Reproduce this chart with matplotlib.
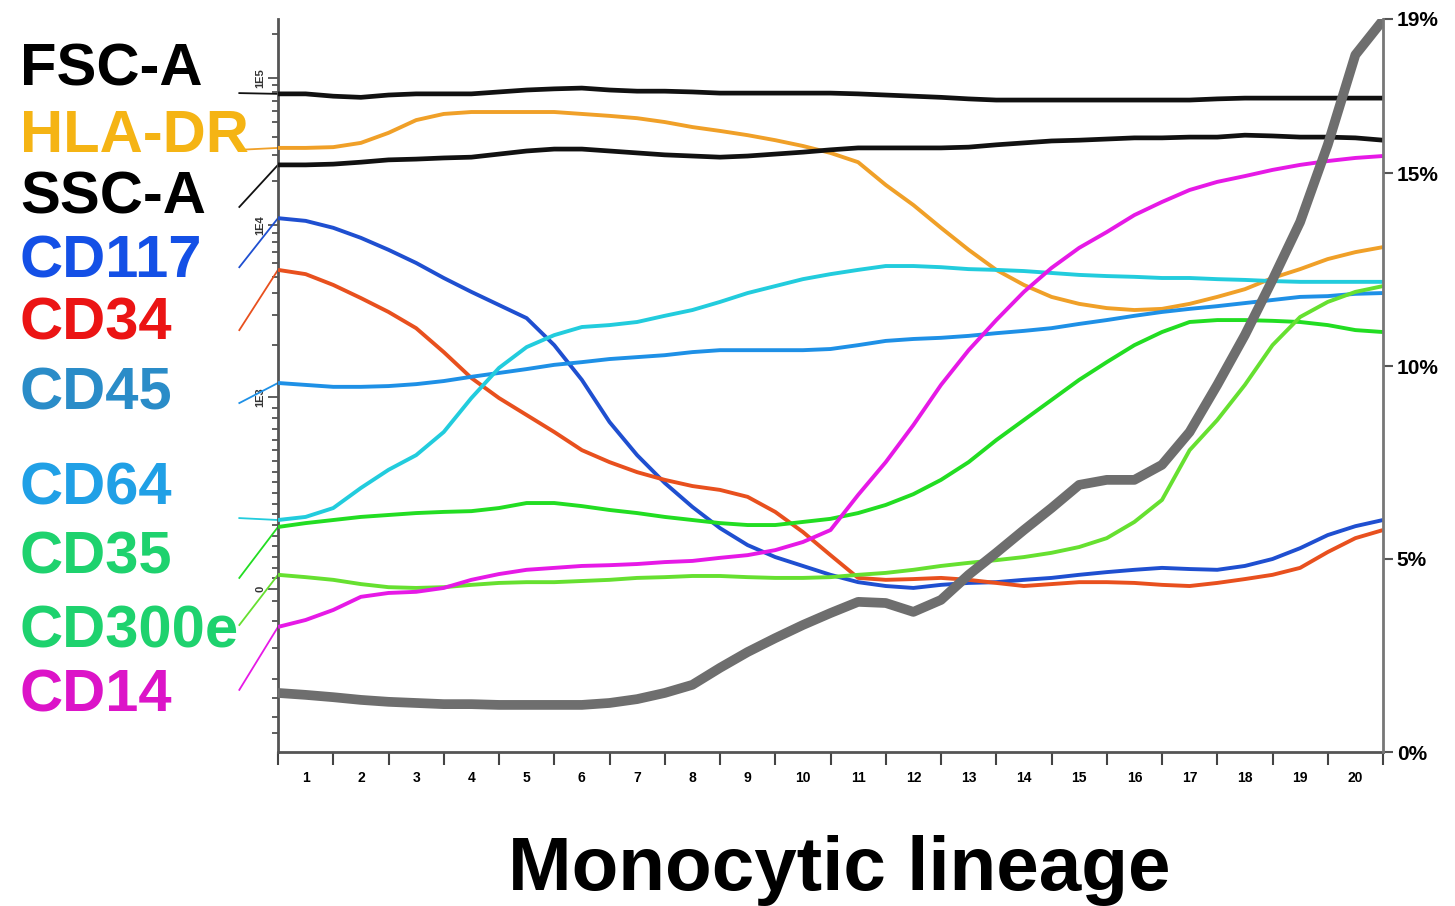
import numpy as np
import matplotlib.pyplot as plt
from matplotlib.ticker import FixedLocator, NullFormatter

plt.rcParams['font.family'] = ['Liberation Sans', 'DejaVu Sans']

# 20 maturation stages, curves sampled every half stage (0 .. 20)
stage = np.linspace(0, 20, 41)
stage_labels = [str(i) for i in range(1, 21)]

# marker intensities (drawn on the same vertical scale as the % axis)
fsc_a = [17.05, 17.05, 16.99, 16.96, 17.02, 17.05, 17.05, 17.05, 17.10, 17.15, 17.18, 17.20, 17.15, 17.12,
         17.12, 17.10, 17.07, 17.07, 17.07, 17.07, 17.07, 17.05, 17.02, 16.99, 16.96, 16.92, 16.89, 16.89,
         16.89, 16.89, 16.89, 16.89, 16.89, 16.89, 16.92, 16.94, 16.94, 16.94, 16.94, 16.94, 16.94]
hla_dr = [15.65, 15.65, 15.67, 15.78, 16.04, 16.37, 16.53, 16.58, 16.58, 16.58, 16.58, 16.53, 16.48, 16.42,
          16.32, 16.19, 16.09, 15.98, 15.85, 15.70, 15.52, 15.28, 14.69, 14.17, 13.58, 13.01, 12.49, 12.10,
          11.79, 11.61, 11.50, 11.45, 11.48, 11.61, 11.79, 11.99, 12.28, 12.51, 12.77, 12.95, 13.08]
ssc_a = [15.21, 15.21, 15.23, 15.28, 15.34, 15.36, 15.39, 15.41, 15.49, 15.57, 15.62, 15.62, 15.57, 15.52,
         15.47, 15.44, 15.41, 15.44, 15.49, 15.54, 15.60, 15.65, 15.65, 15.65, 15.65, 15.67, 15.73, 15.78,
         15.83, 15.85, 15.88, 15.91, 15.91, 15.93, 15.93, 15.98, 15.96, 15.93, 15.93, 15.91, 15.85]
cd117 = [13.83, 13.76, 13.58, 13.32, 13.01, 12.67, 12.28, 11.92, 11.58, 11.24, 10.54, 9.64, 8.55, 7.69,
         6.97, 6.35, 5.80, 5.36, 5.05, 4.82, 4.59, 4.40, 4.30, 4.25, 4.33, 4.38, 4.40, 4.46, 4.51, 4.59,
         4.66, 4.72, 4.77, 4.74, 4.72, 4.82, 5.00, 5.28, 5.62, 5.85, 6.01]
cd34 = [12.49, 12.38, 12.10, 11.76, 11.40, 10.98, 10.36, 9.69, 9.17, 8.73, 8.29, 7.82, 7.51, 7.25, 7.05,
        6.89, 6.79, 6.61, 6.22, 5.70, 5.10, 4.51, 4.46, 4.48, 4.51, 4.46, 4.38, 4.30, 4.35, 4.40, 4.40,
        4.38, 4.33, 4.30, 4.38, 4.48, 4.59, 4.77, 5.18, 5.54, 5.75]
cd45 = [9.56, 9.51, 9.46, 9.46, 9.48, 9.53, 9.61, 9.72, 9.82, 9.92, 10.03, 10.10, 10.18, 10.23, 10.28,
        10.36, 10.41, 10.41, 10.41, 10.41, 10.44, 10.54, 10.65, 10.70, 10.73, 10.78, 10.85, 10.91, 10.98,
        11.09, 11.19, 11.30, 11.40, 11.48, 11.55, 11.63, 11.71, 11.79, 11.81, 11.87, 11.89]
cd64 = [6.01, 6.09, 6.32, 6.84, 7.31, 7.69, 8.29, 9.17, 9.95, 10.49, 10.80, 11.01, 11.06, 11.14, 11.30,
        11.45, 11.66, 11.89, 12.07, 12.25, 12.38, 12.49, 12.59, 12.59, 12.56, 12.51, 12.49, 12.46, 12.41,
        12.36, 12.33, 12.31, 12.28, 12.28, 12.25, 12.23, 12.20, 12.18, 12.18, 12.18, 12.18]
cd35 = [5.83, 5.93, 6.01, 6.09, 6.14, 6.19, 6.22, 6.24, 6.32, 6.45, 6.45, 6.37, 6.27, 6.19, 6.09, 6.01,
        5.93, 5.88, 5.88, 5.96, 6.04, 6.19, 6.40, 6.68, 7.05, 7.51, 8.08, 8.60, 9.12, 9.64, 10.10, 10.54,
        10.88, 11.14, 11.19, 11.19, 11.17, 11.14, 11.06, 10.93, 10.88]
cd300e = [4.59, 4.53, 4.46, 4.35, 4.27, 4.25, 4.27, 4.33, 4.38, 4.40, 4.40, 4.43, 4.46, 4.51, 4.53, 4.56,
          4.56, 4.53, 4.51, 4.51, 4.53, 4.59, 4.64, 4.72, 4.82, 4.90, 4.97, 5.05, 5.16, 5.31, 5.54, 5.96,
          6.53, 7.82, 8.60, 9.51, 10.54, 11.27, 11.66, 11.92, 12.07]
cd14 = [3.24, 3.42, 3.68, 4.02, 4.12, 4.15, 4.25, 4.46, 4.61, 4.72, 4.77, 4.82, 4.84, 4.87, 4.92, 4.95,
        5.03, 5.10, 5.23, 5.44, 5.75, 6.66, 7.51, 8.47, 9.51, 10.41, 11.19, 11.92, 12.54, 13.06, 13.47,
        13.91, 14.25, 14.56, 14.77, 14.92, 15.08, 15.21, 15.31, 15.39, 15.44]
# share of events in each stage (%)
events_pct = [1.53, 1.48, 1.42, 1.35, 1.30, 1.27, 1.24, 1.24, 1.22, 1.22, 1.22, 1.22, 1.27, 1.37, 1.53,
              1.74, 2.18, 2.59, 2.95, 3.29, 3.60, 3.89, 3.86, 3.63, 3.94, 4.59, 5.16, 5.75, 6.32, 6.92,
              7.05, 7.05, 7.44, 8.29, 9.51, 10.80, 12.23, 13.73, 15.73, 18.06, 18.96]

names = ['FSC-A', 'HLA-DR', 'SSC-A', 'CD117', 'CD34', 'CD45', 'CD64', 'CD35', 'CD300e', 'CD14']
curves = [fsc_a, hla_dr, ssc_a, cd117, cd34, cd45, cd64, cd35, cd300e, cd14]
line_colors = ['#111111', '#F0A028', '#111111', '#1F4FD0', '#E8501E', '#1E90E6', '#22CCDD',
               '#22DD22', '#66E030', '#E619E6']
label_colors = ['#000000', '#F5B414', '#000000', '#1450E6', '#EB1414', '#2A8CC8', '#20A0E6',
                '#1ED26E', '#1ED26E', '#DC14C8']
# where the small link line from each label meets the left edge
link_y = [17.07, 15.60, 14.12, 12.56, 10.93, 9.04, 6.06, 4.51, 3.29, 1.61]
label_baseline = [85, 152, 213, 277, 340, 410, 505, 573, 648, 712]  # px from top

fig = plt.figure(figsize=(14.55, 9.06), dpi=100)
ax = fig.add_axes([278 / 1455, 154 / 906, 1105 / 1455, 733.4 / 906])
ax.set_xlim(0, 20)
ax.set_ylim(0, 19)

for name, y, c in zip(names, curves, line_colors):
    lw = 3.4 if c == '#111111' else 2.8
    ax.plot(stage, y, color=c, lw=lw, solid_capstyle='butt', zorder=3)
ax.plot(stage, events_pct, color='#6E6E6E', lw=7, solid_capstyle='round', zorder=4)

# link lines outside the frame
for y0, y, c in zip(link_y, curves, line_colors):
    ax.plot([-0.7, 0], [y0, y[0]], color=c, lw=1.3, clip_on=False, zorder=2)

# labels
for name, c, b in zip(names, label_colors, label_baseline):
    fig.text(20 / 1455, 1 - b / 906, name, color=c, fontsize=43, fontweight='bold',
             ha='left', va='baseline')

# spines
for s in ['top', 'right']:
    ax.spines[s].set_visible(False)
ax.spines['left'].set_color('#555555')
ax.spines['left'].set_linewidth(2)
ax.spines['bottom'].set_color('#555555')
ax.spines['bottom'].set_linewidth(2)

# bottom axis: ticks on stage borders, labels in the middle
ax.set_xticks(np.arange(0, 21))
ax.set_xticklabels([])
ax.set_xticks(np.arange(0.5, 20, 1), minor=True)
ax.set_xticklabels(stage_labels, minor=True, fontsize=10, fontweight='bold')
ax.tick_params(axis='x', which='major', direction='out', length=9, width=1.5, color='#444444')
ax.tick_params(axis='x', which='minor', length=0, pad=14)

# left axis: fluorescence scale (log decades + linear zone around 0)
dec = {'1E3': 9.20, '1E4': 13.65, '1E5': 17.46}
zero_pos = 4.22
minor = []
for lo, hi in [(9.20, 13.65), (13.65, 17.46), (17.46, 21.27)]:
    for m in range(2, 10):
        v = lo + np.log10(m) * (hi - lo)
        if v < 19:
            minor.append(v)
lin_step = (dec['1E3'] - zero_pos) / 18
minor += list(zero_pos + lin_step * np.arange(1, 18))
minor += [3.9, 3.4, 2.7, 1.9, 1.4, 0.9, 0.5]
ax.yaxis.set_major_locator(FixedLocator([zero_pos, dec['1E3'], dec['1E4'], dec['1E5']]))
ax.set_yticklabels(['0', '1E3', '1E4', '1E5'], rotation=90, fontsize=8, fontweight='bold',
                   va='center', color='#333333')
ax.yaxis.set_minor_locator(FixedLocator(minor))
ax.yaxis.set_minor_formatter(NullFormatter())
ax.tick_params(axis='y', which='major', direction='out', length=7, width=1.2, color='#444444', pad=2)
ax.tick_params(axis='y', which='minor', direction='out', length=4, width=1.2, color='#444444')

# right axis: percent of events
ax2 = ax.twinx()
ax2.set_ylim(0, 19)
for s in ['top', 'left', 'bottom']:
    ax2.spines[s].set_visible(False)
ax2.spines['right'].set_color('#777777')
ax2.spines['right'].set_linewidth(2)
ax2.set_yticks([0, 5, 10, 15, 19])
ax2.set_yticklabels(['0%', '5%', '10%', '15%', '19%'], fontsize=15, fontweight='bold')
ax2.tick_params(axis='y', direction='out', length=7, width=1.5, color='#555555', pad=3)

fig.text(0.577, 1 - 890 / 906, 'Monocytic lineage', fontsize=55, fontweight='bold',
         ha='center', va='baseline')

fig.savefig('out.png', dpi=100)
